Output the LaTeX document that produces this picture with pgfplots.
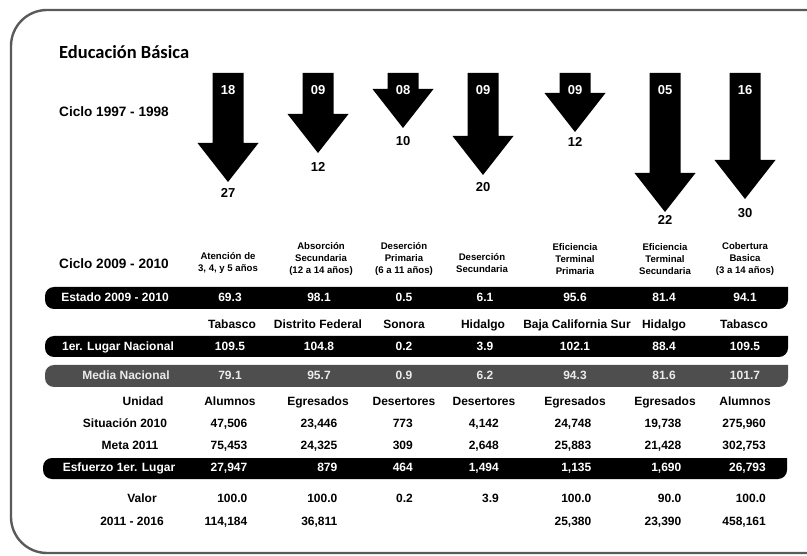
\documentclass[border=0pt]{standalone}
\usepackage{pgfplots}
\pgfplotsset{compat=1.18}
\usepackage{pgfplotstable}
\usepackage{fontspec}
\setmainfont{Liberation Sans}
\newfontfamily\titlefont{Carlito}

\newcommand\fv{\fontsize{12}{14}\selectfont\bfseries}
\newcommand\fh{\fontsize{9.6}{12.3}\selectfont\bfseries}
\newcommand\fc{\fontsize{13.6}{16}\selectfont\bfseries}
\newcommand\fa{\fontsize{13}{15}\selectfont\bfseries}
\definecolor{bordergray}{HTML}{5A5A5A}
\definecolor{mediagray}{HTML}{4E4E4E}

% arrows: x centre, tip y, label y, rank 1997-1998, rank 2009-2010
\pgfplotstableread{
x tip lab top bot
228 182 194 18 27
318 153 168 09 12
403 128 142 08 10
483 175 188 09 20
575 132 143 09 12
665 212 221 05 22
745 199 214 16 30
}\arrowtab

\pgfplotstableread[col sep=semicolon]{
x;sx;est;state;lugar;media
230;232;69.3;Tabasco;109.5;79.1
319;318;98.1;Distrito Federal;104.8;95.7
404;404;0.5;Sonora;0.2;0.9
485;483;6.1;Hidalgo;3.9;6.2
575;577;95.6;Baja California Sur;102.1;94.3
664;664;81.4;Hidalgo;88.4;81.6
745;744;94.1;Tabasco;109.5;101.7
}\uppertab

\pgfplotstableread[col sep=semicolon]{
cx;rx;unidad;sit;meta;esf;valor
230;247.5;Alumnos;47,506;75,453;27,947;100.0
318;337.5;Egresados;23,446;24,325;879;100.0
404;413;Desertores;773;309;464;0.2
484;499;Desertores;4,142;2,648;1,494;3.9
575;591.5;Egresados;24,748;25,883;1,135;100.0
665;681.5;Egresados;19,738;21,428;1,690;90.0
745;766;Alumnos;275,960;302,753;26,793;100.0
}\lowertab

\pgfplotstableread[col sep=semicolon]{
rx;prox
247.5;114,184
337.5;36,811
591.5;25,380
681.5;23,390
766;458,161
}\proxtab

\newcommand\rowplot[5]{%
  \addplot[draw=none, mark=none, nodes near coords, point meta=explicit symbolic,
    every node near coord/.append style={inner sep=0pt, text height=0.72em, text depth=0pt, #5}]
    table[x=#2, y expr=#3, meta=#4] {#1};}

\begin{document}
\begin{tikzpicture}
\begin{axis}[
  scale only axis, width=807pt, height=556pt,
  xmin=0, xmax=807, ymin=0, ymax=556, y dir=reverse,
  hide axis, clip=true,
]
% frame
\draw[bordergray, line width=2.4pt, rounded corners=36pt]
  (845,10) -- (11,10) -- (11,553) -- (845,553) -- (845,10);

% row bars
\fill[black] (788,298) -- (788,287) [rounded corners=9pt] -- (45,287) -- (45,309) -- (788,309) [sharp corners] -- (788,298);
\fill[black] (788,346) -- (788,336) [rounded corners=9pt] -- (45,336) -- (45,357) -- (788,357) [sharp corners] -- (788,346);
\fill[mediagray] (788,376) -- (788,365) [rounded corners=9pt] -- (45,365) -- (45,387) -- (788,387) [sharp corners] -- (788,376);
\fill[black] (787,468) -- (787,458) [rounded corners=9pt] -- (43,458) -- (43,479) -- (787,479) [sharp corners] -- (787,468);

% arrows
\pgfplotsforeachungrouped \i in {0,...,6}{%
  \pgfplotstablegetelem{\i}{x}\of\arrowtab \edef\aX{\pgfplotsretval}%
  \pgfplotstablegetelem{\i}{tip}\of\arrowtab \edef\aT{\pgfplotsretval}%
  \pgfmathsetmacro\aXl{\aX-15.5}\pgfmathsetmacro\aXr{\aX+15.5}%
  \pgfmathsetmacro\aHl{\aX-30.5}\pgfmathsetmacro\aHr{\aX+30.5}%
  \pgfmathsetmacro\aHy{\aT-39}%
  \edef\tmp{\noexpand\addplot[fill=black, draw=none] coordinates
    {(\aXl,73) (\aXr,73) (\aXr,\aHy) (\aHr,\aHy) (\aX,\aT) (\aHl,\aHy) (\aXl,\aHy)};}%
  \tmp
}
\rowplot{\arrowtab}{x}{91}{top}{anchor=center, text=white, font=\fa}
\rowplot{\arrowtab}{x}{\thisrow{lab}}{bot}{anchor=center, text=black, font=\fa}

% titles and labels
\node[anchor=base west, inner sep=0pt, font=\titlefont\fontsize{18.5}{20}\selectfont\bfseries] at (59,59) {Educación Básica};
\node[anchor=base west, inner sep=0pt, font=\fc] at (59,117) {Ciclo 1997 - 1998};
\node[anchor=base west, inner sep=0pt, font=\fc] at (59,269) {Ciclo 2009 - 2010};

\node[align=center, font=\fh] at (228,263) {Atención de\\3, 4, y 5 años};
\node[align=center, font=\fh] at (321,259) {Absorción\\Secundaria\\(12 a 14 años)};
\node[align=center, font=\fh] at (404,259) {Deserción\\Primaria\\(6 a 11 años)};
\node[align=center, font=\fh] at (482,263) {Deserción\\Secundaria};
\node[align=center, font=\fh] at (575,259) {Eficiencia\\Terminal\\Primaria};
\node[align=center, font=\fh] at (665,259) {Eficiencia\\Terminal\\Secundaria};
\node[align=center, font=\fh] at (745,259) {Cobertura\\Basica\\(3 a 14 años)};

\tikzset{rl/.style={inner sep=0pt, text height=0.72em, text depth=0pt, font=\fv}}
\node[rl, text=white] at (115,298) {Estado 2009 - 2010};
\node[rl, text=white] at (118,347) {1er. Lugar Nacional};
\node[rl, text=white!92!black] at (126,376) {Media Nacional};
\node[rl, text=white] at (119,468) {Esfuerzo 1er. Lugar};
\node[rl] at (143,402) {Unidad};
\node[rl] at (125,424) {Situación 2010};
\node[rl] at (130,446) {Meta 2011};
\node[rl] at (142,499) {Valor};
\node[rl] at (132,522) {2011 - 2016};

% upper table values
\rowplot{\uppertab}{x}{298}{est}{anchor=center, text=white, font=\fv}
\rowplot{\uppertab}{sx}{325}{state}{anchor=center, text=black, font=\fv}
\rowplot{\uppertab}{x}{347}{lugar}{anchor=center, text=white, font=\fv}
\rowplot{\uppertab}{x}{376}{media}{anchor=center, text=white!92!black, font=\fv}

% lower table values
\rowplot{\lowertab}{cx}{402}{unidad}{anchor=center, text=black, font=\fv}
\rowplot{\lowertab}{rx}{424}{sit}{anchor=east, text=black, font=\fv}
\rowplot{\lowertab}{rx}{446}{meta}{anchor=east, text=black, font=\fv}
\rowplot{\lowertab}{rx}{468}{esf}{anchor=east, text=white, font=\fv}
\rowplot{\lowertab}{rx}{499}{valor}{anchor=east, text=black, font=\fv}
\rowplot{\proxtab}{rx}{522}{prox}{anchor=east, text=black, font=\fv}
\end{axis}
\pgfresetboundingbox
\useasboundingbox (current axis.south west) rectangle (current axis.north east);
\end{tikzpicture}
\end{document}
